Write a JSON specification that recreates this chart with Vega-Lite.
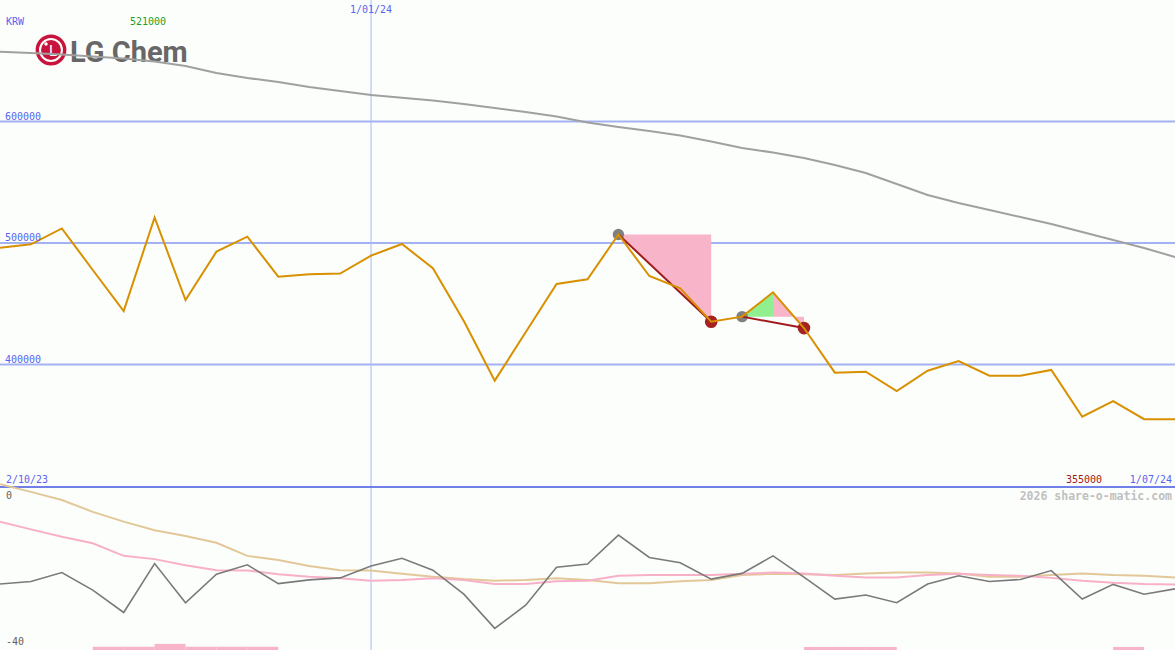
{
  "$schema": "https://vega.github.io/schema/vega-lite/v6.json",
  "width": 1175,
  "height": 650,
  "autosize": "none",
  "padding": 0,
  "background": "#fcfefc",
  "config": {"view": {"stroke": null}},
  "datasets": {
    "w": [
      {"d": "2023-10-09", "close": 496100, "ma": 657400, "mom": -23.8, "p1": -8.5, "p2": 0.7},
      {"d": "2023-10-16", "close": 498900, "ma": 656400, "mom": -23.2, "p1": -10.4, "p2": -1.2},
      {"d": "2023-10-23", "close": 512000, "ma": 655100, "mom": -21.0, "p1": -12.2, "p2": -3.2},
      {"d": "2023-10-30", "close": 477800, "ma": 653500, "mom": -25.3, "p1": -13.8, "p2": -6.1},
      {"d": "2023-11-06", "close": 444000, "ma": 651900, "mom": -30.8, "p1": -16.9, "p2": -8.5},
      {"d": "2023-11-13", "close": 521000, "ma": 649400, "mom": -18.8, "p1": -17.7, "p2": -10.6},
      {"d": "2023-11-20", "close": 453100, "ma": 645700, "mom": -28.4, "p1": -19.2, "p2": -12.0},
      {"d": "2023-11-27", "close": 492900, "ma": 639900, "mom": -21.4, "p1": -20.4, "p2": -13.7},
      {"d": "2023-12-04", "close": 505200, "ma": 635800, "mom": -19.1, "p1": -20.5, "p2": -16.9},
      {"d": "2023-12-11", "close": 472300, "ma": 632500, "mom": -23.7, "p1": -21.4, "p2": -17.9},
      {"d": "2023-12-18", "close": 474200, "ma": 628400, "mom": -22.8, "p1": -22.0, "p2": -19.4},
      {"d": "2023-12-25", "close": 474800, "ma": 625100, "mom": -22.3, "p1": -22.4, "p2": -20.4},
      {"d": "2024-01-01", "close": 489600, "ma": 621800, "mom": -19.4, "p1": -23.0, "p2": -20.5},
      {"d": "2024-01-08", "close": 499200, "ma": 619500, "mom": -17.5, "p1": -22.8, "p2": -21.3},
      {"d": "2024-01-15", "close": 479200, "ma": 617300, "mom": -20.4, "p1": -22.4, "p2": -22.0},
      {"d": "2024-01-22", "close": 435800, "ma": 614400, "mom": -26.3, "p1": -22.8, "p2": -22.6},
      {"d": "2024-01-29", "close": 386700, "ma": 611100, "mom": -34.7, "p1": -23.8, "p2": -23.0},
      {"d": "2024-02-05", "close": 426500, "ma": 607800, "mom": -29.0, "p1": -23.8, "p2": -22.8},
      {"d": "2024-02-12", "close": 466300, "ma": 604100, "mom": -19.7, "p1": -23.1, "p2": -22.4},
      {"d": "2024-02-19", "close": 470100, "ma": 599200, "mom": -18.9, "p1": -23.0, "p2": -22.8},
      {"d": "2024-02-26", "close": 507000, "ma": 595500, "mom": -11.8, "p1": -21.8, "p2": -23.6},
      {"d": "2024-03-04", "close": 472800, "ma": 592200, "mom": -17.3, "p1": -21.6, "p2": -23.6},
      {"d": "2024-03-11", "close": 462700, "ma": 588500, "mom": -18.6, "p1": -21.6, "p2": -23.1},
      {"d": "2024-03-18", "close": 435200, "ma": 583500, "mom": -22.6, "p1": -21.6, "p2": -22.8},
      {"d": "2024-03-25", "close": 439400, "ma": 578200, "mom": -21.2, "p1": -21.3, "p2": -21.6},
      {"d": "2024-04-01", "close": 459400, "ma": 574500, "mom": -16.9, "p1": -21.0, "p2": -21.3},
      {"d": "2024-04-08", "close": 430000, "ma": 570000, "mom": -22.1, "p1": -21.2, "p2": -21.4},
      {"d": "2024-04-15", "close": 393300, "ma": 564200, "mom": -27.5, "p1": -21.8, "p2": -21.6},
      {"d": "2024-04-22", "close": 394100, "ma": 557600, "mom": -26.5, "p1": -22.2, "p2": -21.2},
      {"d": "2024-04-29", "close": 378200, "ma": 548600, "mom": -28.4, "p1": -22.2, "p2": -21.0},
      {"d": "2024-05-06", "close": 394900, "ma": 539500, "mom": -23.8, "p1": -21.6, "p2": -21.0},
      {"d": "2024-05-13", "close": 402900, "ma": 532900, "mom": -21.8, "p1": -21.3, "p2": -21.2},
      {"d": "2024-05-20", "close": 390800, "ma": 527200, "mom": -23.2, "p1": -21.6, "p2": -22.0},
      {"d": "2024-05-27", "close": 390800, "ma": 521400, "mom": -22.7, "p1": -21.8, "p2": -22.0},
      {"d": "2024-06-03", "close": 395500, "ma": 515600, "mom": -20.5, "p1": -22.3, "p2": -21.6},
      {"d": "2024-06-10", "close": 357000, "ma": 509100, "mom": -27.5, "p1": -23.0, "p2": -21.2},
      {"d": "2024-06-17", "close": 369900, "ma": 502500, "mom": -23.9, "p1": -23.5, "p2": -21.6},
      {"d": "2024-06-24", "close": 355000, "ma": 495900, "mom": -26.3, "p1": -23.8, "p2": -21.8},
      {"d": "2024-07-01", "close": 355000, "ma": 488500, "mom": -25.0, "p1": -23.9, "p2": -22.2}
    ],
    "grid": [
      {"d": "2023-10-09", "v": 600000, "t": "600000"},
      {"d": "2023-10-09", "v": 500000, "t": "500000"},
      {"d": "2023-10-09", "v": 400000, "t": "400000"}
    ],
    "fall": [
      {"g": "a", "d": "2024-02-26", "v": 507000, "b": 507000},
      {"g": "a", "d": "2024-03-18", "v": 435200, "b": 507000},
      {"g": "b", "d": "2024-04-01", "v": 459400, "b": 439400},
      {"g": "b", "d": "2024-04-08", "v": 430000, "b": 439400}
    ],
    "rise": [
      {"d": "2024-03-25", "v": 439400, "b": 439400},
      {"d": "2024-04-01", "v": 459400, "b": 439400}
    ],
    "legs": [
      {"g": "a", "d": "2024-02-26", "v": 507000},
      {"g": "a", "d": "2024-03-18", "v": 435200},
      {"g": "b", "d": "2024-03-25", "v": 439400},
      {"g": "b", "d": "2024-04-08", "v": 430000}
    ],
    "peaks": [
      {"d": "2024-02-26", "v": 507000},
      {"d": "2024-03-25", "v": 439400}
    ],
    "troughs": [
      {"d": "2024-03-18", "v": 435200},
      {"d": "2024-04-08", "v": 430000}
    ],
    "bars": [
      {"d0": "2023-10-30", "d1": "2023-11-06", "h": -39.2},
      {"d0": "2023-11-06", "d1": "2023-11-13", "h": -39.2},
      {"d0": "2023-11-13", "d1": "2023-11-20", "h": -38.5},
      {"d0": "2023-11-20", "d1": "2023-11-27", "h": -39.2},
      {"d0": "2023-11-27", "d1": "2023-12-04", "h": -39.2},
      {"d0": "2023-12-04", "d1": "2023-12-11", "h": -39.2},
      {"d0": "2024-04-08", "d1": "2024-04-15", "h": -39.25},
      {"d0": "2024-04-15", "d1": "2024-04-22", "h": -39.25},
      {"d0": "2024-04-22", "d1": "2024-04-29", "h": -39.25},
      {"d0": "2024-06-17", "d1": "2024-06-24", "h": -39.25}
    ]
  },
  "layer": [
    {
      "layer": [
        {
          "data": {"name": "grid"},
          "mark": {"type": "rule", "color": "#a2b2f2", "strokeWidth": 2},
          "encoding": {
            "y": {"field": "v", "type": "quantitative", "axis": null, "scale": {"domain": [300000, 700000], "range": [486, 0], "nice": false, "zero": false}}
          }
        },
        {
          "data": {"values": [{"d": "2024-01-01"}]},
          "mark": {"type": "rule", "color": "#a8b8f8", "strokeWidth": 1},
          "encoding": {
            "x": {"field": "d", "type": "temporal", "axis": null, "scale": {"type": "utc", "nice": false, "domain": [{"year": 2023, "month": 10, "date": 9, "utc": true}, {"year": 2024, "month": 7, "date": 1, "utc": true}]}}
          }
        },
        {
          "data": {"values": [{"d": "2023-10-20T13:00:00Z", "v": 658850}]},
          "mark": {"type": "point", "filled": true, "color": "#c8143c", "opacity": 1, "size": 950},
          "encoding": {
            "x": {"field": "d", "type": "temporal", "axis": null, "scale": {"type": "utc", "nice": false, "domain": [{"year": 2023, "month": 10, "date": 9, "utc": true}, {"year": 2024, "month": 7, "date": 1, "utc": true}]}},
            "y": {"field": "v", "type": "quantitative", "axis": null, "scale": {"domain": [300000, 700000], "range": [486, 0], "nice": false, "zero": false}}
          }
        },
        {
          "data": {"values": [{"d": "2023-10-20T13:00:00Z", "v": 658850}]},
          "mark": {"type": "point", "filled": false, "stroke": "#ffffff", "strokeWidth": 2, "opacity": 1, "size": 480},
          "encoding": {
            "x": {"field": "d", "type": "temporal", "axis": null, "scale": {"type": "utc", "nice": false, "domain": [{"year": 2023, "month": 10, "date": 9, "utc": true}, {"year": 2024, "month": 7, "date": 1, "utc": true}]}},
            "y": {"field": "v", "type": "quantitative", "axis": null, "scale": {"domain": [300000, 700000], "range": [486, 0], "nice": false, "zero": false}}
          }
        },
        {
          "data": {"values": [{"d": "2023-10-19T10:00:00Z", "v": 663800}]},
          "mark": {"type": "point", "filled": true, "color": "#ffffff", "opacity": 1, "size": 12},
          "encoding": {
            "x": {"field": "d", "type": "temporal", "axis": null, "scale": {"type": "utc", "nice": false, "domain": [{"year": 2023, "month": 10, "date": 9, "utc": true}, {"year": 2024, "month": 7, "date": 1, "utc": true}]}},
            "y": {"field": "v", "type": "quantitative", "axis": null, "scale": {"domain": [300000, 700000], "range": [486, 0], "nice": false, "zero": false}}
          }
        },
        {
          "data": {"values": [{"d": "2023-10-21T00:00:00Z", "v": 653700, "t": "L"}]},
          "mark": {"type": "text", "color": "#ffffff", "font": "Roboto", "fontSize": 15, "align": "center", "baseline": "alphabetic"},
          "encoding": {
            "x": {"field": "d", "type": "temporal", "axis": null, "scale": {"type": "utc", "nice": false, "domain": [{"year": 2023, "month": 10, "date": 9, "utc": true}, {"year": 2024, "month": 7, "date": 1, "utc": true}]}},
            "y": {"field": "v", "type": "quantitative", "axis": null, "scale": {"domain": [300000, 700000], "range": [486, 0], "nice": false, "zero": false}},
            "text": {"field": "t"}
          }
        },
        {
          "data": {"values": [{"d": "2023-10-24T20:00:00Z", "v": 649000, "t": "LG Chem"}]},
          "mark": {"type": "text", "color": "#676767", "font": "Roboto", "fontWeight": "bold", "fontSize": 29, "align": "left", "baseline": "alphabetic"},
          "encoding": {
            "x": {"field": "d", "type": "temporal", "axis": null, "scale": {"type": "utc", "nice": false, "domain": [{"year": 2023, "month": 10, "date": 9, "utc": true}, {"year": 2024, "month": 7, "date": 1, "utc": true}]}},
            "y": {"field": "v", "type": "quantitative", "axis": null, "scale": {"domain": [300000, 700000], "range": [486, 0], "nice": false, "zero": false}},
            "text": {"field": "t"}
          }
        },
        {
          "data": {"name": "fall"},
          "mark": {"type": "area", "color": "#f8b4c8", "opacity": 1},
          "encoding": {
            "x": {"field": "d", "type": "temporal", "axis": null, "scale": {"type": "utc", "nice": false, "domain": [{"year": 2023, "month": 10, "date": 9, "utc": true}, {"year": 2024, "month": 7, "date": 1, "utc": true}]}},
            "y": {"field": "v", "type": "quantitative", "axis": null, "scale": {"domain": [300000, 700000], "range": [486, 0], "nice": false, "zero": false}},
            "y2": {"field": "b"},
            "detail": {"field": "g"}
          }
        },
        {
          "data": {"name": "rise"},
          "mark": {"type": "area", "color": "#90f090", "opacity": 1},
          "encoding": {
            "x": {"field": "d", "type": "temporal", "axis": null, "scale": {"type": "utc", "nice": false, "domain": [{"year": 2023, "month": 10, "date": 9, "utc": true}, {"year": 2024, "month": 7, "date": 1, "utc": true}]}},
            "y": {"field": "v", "type": "quantitative", "axis": null, "scale": {"domain": [300000, 700000], "range": [486, 0], "nice": false, "zero": false}},
            "y2": {"field": "b"}
          }
        },
        {
          "data": {"name": "w"},
          "mark": {"type": "line", "color": "#a0a0a0", "strokeWidth": 2},
          "encoding": {
            "x": {"field": "d", "type": "temporal", "axis": null, "scale": {"type": "utc", "nice": false, "domain": [{"year": 2023, "month": 10, "date": 9, "utc": true}, {"year": 2024, "month": 7, "date": 1, "utc": true}]}},
            "y": {"field": "ma", "type": "quantitative", "axis": null, "scale": {"domain": [300000, 700000], "range": [486, 0], "nice": false, "zero": false}}
          }
        },
        {
          "data": {"name": "peaks"},
          "mark": {"type": "point", "filled": true, "color": "#808080", "opacity": 1, "size": 130},
          "encoding": {
            "x": {"field": "d", "type": "temporal", "axis": null, "scale": {"type": "utc", "nice": false, "domain": [{"year": 2023, "month": 10, "date": 9, "utc": true}, {"year": 2024, "month": 7, "date": 1, "utc": true}]}},
            "y": {"field": "v", "type": "quantitative", "axis": null, "scale": {"domain": [300000, 700000], "range": [486, 0], "nice": false, "zero": false}}
          }
        },
        {
          "data": {"name": "troughs"},
          "mark": {"type": "point", "filled": true, "color": "#a52222", "opacity": 1, "size": 160},
          "encoding": {
            "x": {"field": "d", "type": "temporal", "axis": null, "scale": {"type": "utc", "nice": false, "domain": [{"year": 2023, "month": 10, "date": 9, "utc": true}, {"year": 2024, "month": 7, "date": 1, "utc": true}]}},
            "y": {"field": "v", "type": "quantitative", "axis": null, "scale": {"domain": [300000, 700000], "range": [486, 0], "nice": false, "zero": false}}
          }
        },
        {
          "data": {"name": "legs"},
          "mark": {"type": "line", "color": "#a01c1c", "strokeWidth": 2},
          "encoding": {
            "x": {"field": "d", "type": "temporal", "axis": null, "scale": {"type": "utc", "nice": false, "domain": [{"year": 2023, "month": 10, "date": 9, "utc": true}, {"year": 2024, "month": 7, "date": 1, "utc": true}]}},
            "y": {"field": "v", "type": "quantitative", "axis": null, "scale": {"domain": [300000, 700000], "range": [486, 0], "nice": false, "zero": false}},
            "detail": {"field": "g"}
          }
        },
        {
          "data": {"name": "w"},
          "mark": {"type": "line", "color": "#d89000", "strokeWidth": 2},
          "encoding": {
            "x": {"field": "d", "type": "temporal", "axis": null, "scale": {"type": "utc", "nice": false, "domain": [{"year": 2023, "month": 10, "date": 9, "utc": true}, {"year": 2024, "month": 7, "date": 1, "utc": true}]}},
            "y": {"field": "close", "type": "quantitative", "axis": null, "scale": {"domain": [300000, 700000], "range": [486, 0], "nice": false, "zero": false}}
          }
        },
        {
          "data": {"name": "grid"},
          "mark": {"type": "text", "color": "#5a64f0", "font": "DejaVu Sans Mono", "fontSize": 10, "align": "left", "baseline": "alphabetic", "dx": 5, "dy": -2},
          "encoding": {
            "x": {"field": "d", "type": "temporal", "axis": null, "scale": {"type": "utc", "nice": false, "domain": [{"year": 2023, "month": 10, "date": 9, "utc": true}, {"year": 2024, "month": 7, "date": 1, "utc": true}]}},
            "y": {"field": "v", "type": "quantitative", "axis": null, "scale": {"domain": [300000, 700000], "range": [486, 0], "nice": false, "zero": false}},
            "text": {"field": "t"}
          }
        },
        {
          "data": {"values": [{"d": "2023-10-09", "v": 679400, "t": "KRW"}, {"d": "2023-10-09", "v": 302500, "t": "2/10/23"}]},
          "mark": {"type": "text", "color": "#5a64f0", "font": "DejaVu Sans Mono", "fontSize": 10, "align": "left", "baseline": "alphabetic", "dx": 6},
          "encoding": {
            "x": {"field": "d", "type": "temporal", "axis": null, "scale": {"type": "utc", "nice": false, "domain": [{"year": 2023, "month": 10, "date": 9, "utc": true}, {"year": 2024, "month": 7, "date": 1, "utc": true}]}},
            "y": {"field": "v", "type": "quantitative", "axis": null, "scale": {"domain": [300000, 700000], "range": [486, 0], "nice": false, "zero": false}},
            "text": {"field": "t"}
          }
        },
        {
          "data": {"values": [{"d": "2024-01-01", "v": 689550, "t": "1/01/24"}]},
          "mark": {"type": "text", "color": "#5a64f0", "font": "DejaVu Sans Mono", "fontSize": 10, "align": "center", "baseline": "alphabetic"},
          "encoding": {
            "x": {"field": "d", "type": "temporal", "axis": null, "scale": {"type": "utc", "nice": false, "domain": [{"year": 2023, "month": 10, "date": 9, "utc": true}, {"year": 2024, "month": 7, "date": 1, "utc": true}]}},
            "y": {"field": "v", "type": "quantitative", "axis": null, "scale": {"domain": [300000, 700000], "range": [486, 0], "nice": false, "zero": false}},
            "text": {"field": "t"}
          }
        },
        {
          "data": {"values": [{"d": "2024-07-01", "v": 302500, "t": "1/07/24"}]},
          "mark": {"type": "text", "color": "#5a64f0", "font": "DejaVu Sans Mono", "fontSize": 10, "align": "right", "baseline": "alphabetic", "dx": -3},
          "encoding": {
            "x": {"field": "d", "type": "temporal", "axis": null, "scale": {"type": "utc", "nice": false, "domain": [{"year": 2023, "month": 10, "date": 9, "utc": true}, {"year": 2024, "month": 7, "date": 1, "utc": true}]}},
            "y": {"field": "v", "type": "quantitative", "axis": null, "scale": {"domain": [300000, 700000], "range": [486, 0], "nice": false, "zero": false}},
            "text": {"field": "t"}
          }
        },
        {
          "data": {"values": [{"d": "2023-11-11T12:00:00Z", "v": 679400, "t": "521000"}]},
          "mark": {"type": "text", "color": "#1e9e1e", "font": "DejaVu Sans Mono", "fontSize": 10, "align": "center", "baseline": "alphabetic"},
          "encoding": {
            "x": {"field": "d", "type": "temporal", "axis": null, "scale": {"type": "utc", "nice": false, "domain": [{"year": 2023, "month": 10, "date": 9, "utc": true}, {"year": 2024, "month": 7, "date": 1, "utc": true}]}},
            "y": {"field": "v", "type": "quantitative", "axis": null, "scale": {"domain": [300000, 700000], "range": [486, 0], "nice": false, "zero": false}},
            "text": {"field": "t"}
          }
        },
        {
          "data": {"values": [{"d": "2024-06-10T10:00:00Z", "v": 302500, "t": "355000"}]},
          "mark": {"type": "text", "color": "#a01818", "font": "DejaVu Sans Mono", "fontSize": 10, "align": "center", "baseline": "alphabetic"},
          "encoding": {
            "x": {"field": "d", "type": "temporal", "axis": null, "scale": {"type": "utc", "nice": false, "domain": [{"year": 2023, "month": 10, "date": 9, "utc": true}, {"year": 2024, "month": 7, "date": 1, "utc": true}]}},
            "y": {"field": "v", "type": "quantitative", "axis": null, "scale": {"domain": [300000, 700000], "range": [486, 0], "nice": false, "zero": false}},
            "text": {"field": "t"}
          }
        }
      ]
    },
    {
      "layer": [
        {
          "data": {"values": [{"v": 0}]},
          "mark": {"type": "rule", "color": "#7080e8", "strokeWidth": 2},
          "encoding": {
            "y": {"field": "v", "type": "quantitative", "axis": null, "scale": {"domain": [-40, 0], "range": [650, 487], "nice": false, "zero": false}}
          }
        },
        {
          "data": {"name": "bars"},
          "mark": {"type": "rect", "color": "#f8b4c8", "opacity": 1},
          "encoding": {
            "x": {"field": "d0", "type": "temporal", "axis": null, "scale": {"type": "utc", "nice": false, "domain": [{"year": 2023, "month": 10, "date": 9, "utc": true}, {"year": 2024, "month": 7, "date": 1, "utc": true}]}},
            "x2": {"field": "d1"},
            "y": {"field": "h", "type": "quantitative", "axis": null, "scale": {"domain": [-40, 0], "range": [650, 487], "nice": false, "zero": false}},
            "y2": {"datum": -40}
          }
        },
        {
          "data": {"name": "w"},
          "mark": {"type": "line", "color": "#e2c898", "strokeWidth": 2},
          "encoding": {
            "x": {"field": "d", "type": "temporal", "axis": null, "scale": {"type": "utc", "nice": false, "domain": [{"year": 2023, "month": 10, "date": 9, "utc": true}, {"year": 2024, "month": 7, "date": 1, "utc": true}]}},
            "y": {"field": "p2", "type": "quantitative", "axis": null, "scale": {"domain": [-40, 0], "range": [650, 487], "nice": false, "zero": false}}
          }
        },
        {
          "data": {"name": "w"},
          "mark": {"type": "line", "color": "#f8b0c8", "strokeWidth": 2},
          "encoding": {
            "x": {"field": "d", "type": "temporal", "axis": null, "scale": {"type": "utc", "nice": false, "domain": [{"year": 2023, "month": 10, "date": 9, "utc": true}, {"year": 2024, "month": 7, "date": 1, "utc": true}]}},
            "y": {"field": "p1", "type": "quantitative", "axis": null, "scale": {"domain": [-40, 0], "range": [650, 487], "nice": false, "zero": false}}
          }
        },
        {
          "data": {"name": "w"},
          "mark": {"type": "line", "color": "#7a7a7a", "strokeWidth": 1.6},
          "encoding": {
            "x": {"field": "d", "type": "temporal", "axis": null, "scale": {"type": "utc", "nice": false, "domain": [{"year": 2023, "month": 10, "date": 9, "utc": true}, {"year": 2024, "month": 7, "date": 1, "utc": true}]}},
            "y": {"field": "mom", "type": "quantitative", "axis": null, "scale": {"domain": [-40, 0], "range": [650, 487], "nice": false, "zero": false}}
          }
        },
        {
          "data": {"values": [{"d": "2024-07-01", "v": -3.3, "t": "2026 share-o-matic.com"}]},
          "mark": {"type": "text", "color": "#c0c0c0", "font": "DejaVu Sans Mono", "fontWeight": "bold", "fontSize": 11.5, "align": "right", "baseline": "alphabetic", "dx": -3},
          "encoding": {
            "x": {"field": "d", "type": "temporal", "axis": null, "scale": {"type": "utc", "nice": false, "domain": [{"year": 2023, "month": 10, "date": 9, "utc": true}, {"year": 2024, "month": 7, "date": 1, "utc": true}]}},
            "y": {"field": "v", "type": "quantitative", "axis": null, "scale": {"domain": [-40, 0], "range": [650, 487], "nice": false, "zero": false}},
            "text": {"field": "t"}
          }
        },
        {
          "data": {"values": [{"d": "2023-10-09", "v": -3.0, "t": "0"}, {"d": "2023-10-09", "v": -38.8, "t": "-40"}]},
          "mark": {"type": "text", "color": "#606060", "font": "DejaVu Sans Mono", "fontSize": 10, "align": "left", "baseline": "alphabetic", "dx": 6},
          "encoding": {
            "x": {"field": "d", "type": "temporal", "axis": null, "scale": {"type": "utc", "nice": false, "domain": [{"year": 2023, "month": 10, "date": 9, "utc": true}, {"year": 2024, "month": 7, "date": 1, "utc": true}]}},
            "y": {"field": "v", "type": "quantitative", "axis": null, "scale": {"domain": [-40, 0], "range": [650, 487], "nice": false, "zero": false}},
            "text": {"field": "t"}
          }
        }
      ]
    }
  ],
  "resolve": {"scale": {"y": "independent"}}
}
